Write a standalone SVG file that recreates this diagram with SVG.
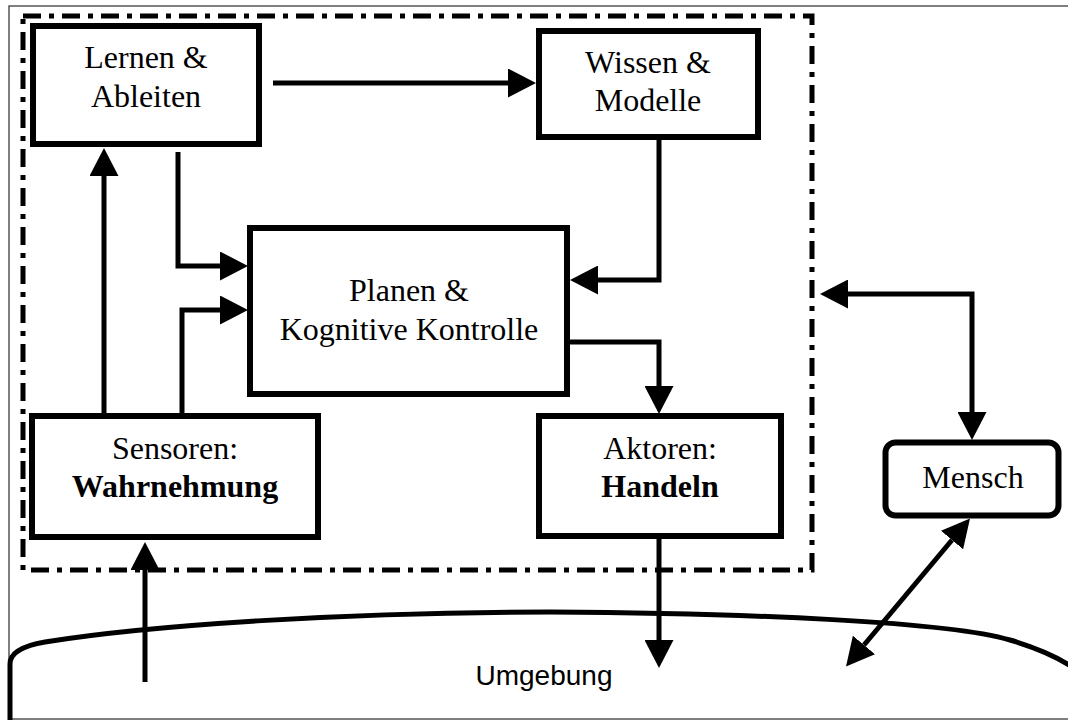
<svg xmlns="http://www.w3.org/2000/svg" width="1068" height="720" viewBox="0 0 1068 720">
<defs>
<style>
.box{fill:#fff;stroke:#000;stroke-width:6}
.lbl{font-family:"Liberation Serif","Times New Roman",serif;font-size:32px;fill:#000;text-anchor:middle}
.b{font-weight:bold}
.con{fill:none;stroke:#000;stroke-width:5}
.frame{fill:none;stroke:#000;stroke-width:5;stroke-dasharray:18 8 5 8}
.env{font-family:"Liberation Sans",Arial,sans-serif;font-size:28px;fill:#000;text-anchor:middle}
</style>
<marker id="ah" viewBox="0 0 28 29" refX="0" refY="14.5" markerWidth="28" markerHeight="29" markerUnits="userSpaceOnUse" orient="auto-start-reverse">
<path d="M0,0 L28,14.5 L0,29 Z" fill="#000"/>
</marker>
</defs>
<rect width="1068" height="720" fill="#fff"/>
<path d="M1068 6 H9 V719 H1068" fill="none" stroke="#555" stroke-width="1.5"/>
<g id="umgebung">
<path d="M10 720 V664 Q10 648 45 642 C150 625 350 612 550 612 C750 613 950 622 1010 640 Q1050 652 1072 667" fill="none" stroke="#000" stroke-width="5"/>
<text class="env" x="544" y="685">Umgebung</text>
</g>
<rect class="frame" x="23" y="16" width="789" height="554"/>
<g id="lernen">
<rect class="box" x="33" y="26" width="226" height="118"/>
<text class="lbl" x="146" y="68">Lernen &amp;</text>
<text class="lbl" x="146" y="107">Ableiten</text>
</g>
<g id="wissen">
<rect class="box" x="539" y="31" width="219" height="106"/>
<text class="lbl" x="648" y="73">Wissen &amp;</text>
<text class="lbl" x="648" y="111">Modelle</text>
</g>
<g id="planen">
<rect class="box" x="250" y="228" width="317" height="166"/>
<text class="lbl" x="409" y="301">Planen &amp;</text>
<text class="lbl" x="409" y="340">Kognitive Kontrolle</text>
</g>
<g id="sensoren">
<rect class="box" x="32" y="416" width="286" height="121"/>
<text class="lbl" x="175" y="459">Sensoren:</text>
<text class="lbl b" x="175" y="497">Wahrnehmung</text>
</g>
<g id="aktoren">
<rect class="box" x="539" y="416" width="242" height="120"/>
<text class="lbl" x="660" y="459">Aktoren:</text>
<text class="lbl b" x="660" y="497">Handeln</text>
</g>
<g id="mensch">
<rect class="box" x="885.5" y="442.5" width="173" height="73" rx="10"/>
<text class="lbl" x="973" y="488">Mensch</text>
</g>
<g id="connectors">
<path class="con" d="M273 83 H508" marker-end="url(#ah)"/>
<path class="con" d="M104 413 V176" marker-end="url(#ah)"/>
<path class="con" d="M178 152 V266 H220" marker-end="url(#ah)"/>
<path class="con" d="M182 413 V310 H220" marker-end="url(#ah)"/>
<path class="con" d="M659 140 V280 H598" marker-end="url(#ah)"/>
<path class="con" d="M570 342 H659 V386" marker-end="url(#ah)"/>
<path class="con" d="M659 539 V640" marker-end="url(#ah)"/>
<path class="con" d="M145 682 V570" marker-end="url(#ah)"/>
<path class="con" d="M848 294 H972 V412" marker-start="url(#ah)" marker-end="url(#ah)"/>
<path class="con" d="M952 540 L864 645" marker-start="url(#ah)" marker-end="url(#ah)"/>
</g>
</svg>
